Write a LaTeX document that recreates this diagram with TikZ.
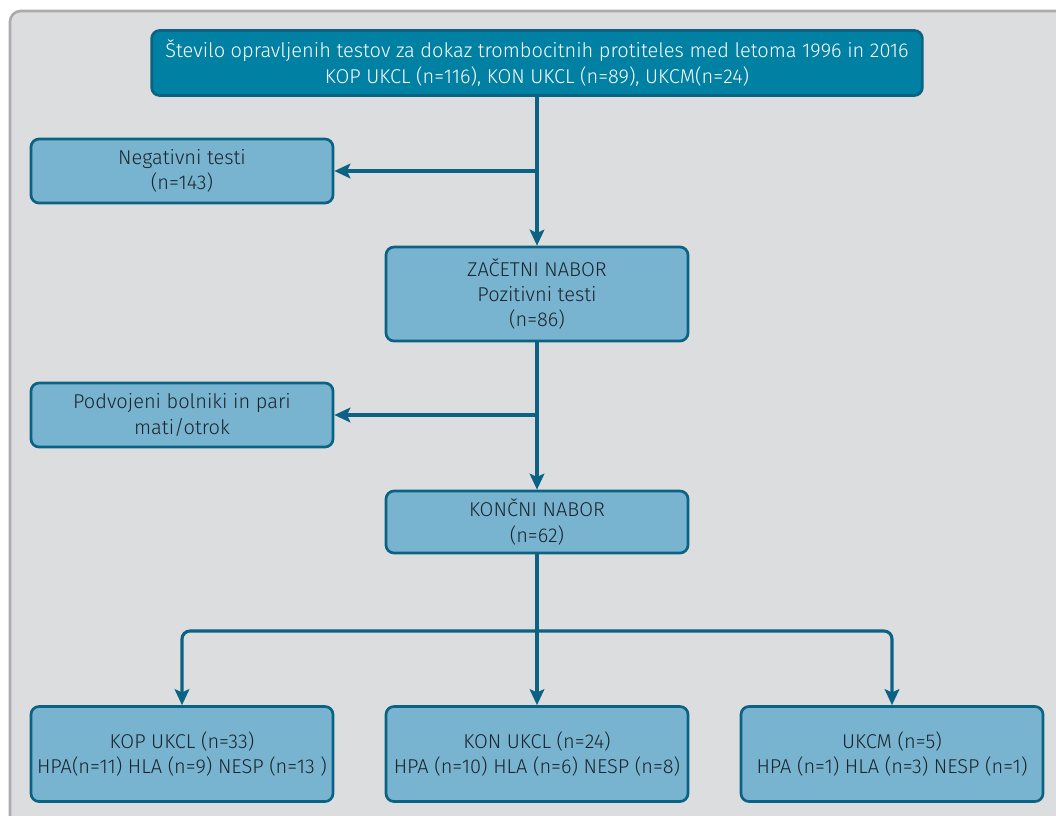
\documentclass[tikz,border=0pt]{standalone}
\usepackage{fontspec}
\setmainfont{Fira Sans Light}
\usetikzlibrary{arrows.meta}

\definecolor{panelgray}{HTML}{DCDDDF}
\definecolor{panelline}{HTML}{ABABAB}
\definecolor{topfill}{HTML}{0080A3}
\definecolor{darkline}{HTML}{0B6283}
\definecolor{boxfill}{HTML}{78B3CF}
\definecolor{boxtext}{HTML}{1A242C}

\tikzset{
    box/.style={draw=darkline,
        line width=2pt,
        rounded corners=6pt,
        fill=boxfill,
        text=boxtext,
        align=center,
        minimum width=226.5pt,
        font=\fontsize{15}{19}\selectfont},
    arr/.style={draw=darkline,
        line width=2.3pt,
        -{Stealth[length=12pt,width=11pt,inset=2.5pt]}}
}

\begin{document}
\begin{tikzpicture}[x=0.75pt,y=-0.75pt]

\useasboundingbox (0,0) rectangle (1056,815);
\clip (0,0) rectangle (1056,815);

% Gray panel
\draw[panelline,
    fill=panelgray,
    line width=2pt,
    rounded corners=8pt] (10,11) rectangle (1090,850);

% Top box
\node[box,
    fill=topfill,
    text=white,
    minimum width=578pt,
    minimum height=48.75pt] (total) at (537,63)
    {Število opravljenih testov za dokaz trombocitnih protiteles med letoma 1996 in 2016\\
     KOP UKCL (n=116), KON UKCL (n=89), UKCM(n=24)};

% Side boxes
\node[box,
    minimum height=48pt] (neg) at (182,171) {Negativni testi\\(n=143)};
\node[box,
    minimum height=48pt] (dup) at (182,415) {Podvojeni bolniki in pari\\mati/otrok};

% Middle boxes
\node[box,
    minimum height=70.5pt] (start) at (537,294) {ZAČETNI NABOR\\Pozitivni testi\\(n=86)};
\node[box,
    minimum height=46.5pt] (final) at (537,522) {KONČNI NABOR\\(n=62)};

% Bottom boxes
\node[box,
    minimum height=71.25pt] (kop) at (182,754) {KOP UKCL (n=33)\\HPA(n=11) HLA (n=9) NESP (n=13 )};
\node[box,
    minimum height=71.25pt] (kon) at (537,754) {KON UKCL (n=24)\\HPA (n=10) HLA (n=6) NESP (n=8)};
\node[box,
    minimum height=71.25pt] (ukcm) at (892,754) {UKCM (n=5)\\HPA (n=1) HLA (n=3) NESP (n=1)};

% Arrows
\draw[arr] (total.south) -- (start.north);
\draw[arr] (neg.east -| start.north) -- (neg.east);
\draw[arr] (start.south) -- (final.north);
\draw[arr] (dup.east -| final.north) -- (dup.east);

\coordinate (split) at (537,631);
\draw[arr] (final.south) -- (kon.north);
\draw[arr, rounded corners=6pt] (split) -| (kop.north);
\draw[arr, rounded corners=6pt] (split) -| (ukcm.north);

\end{tikzpicture}
\end{document}
